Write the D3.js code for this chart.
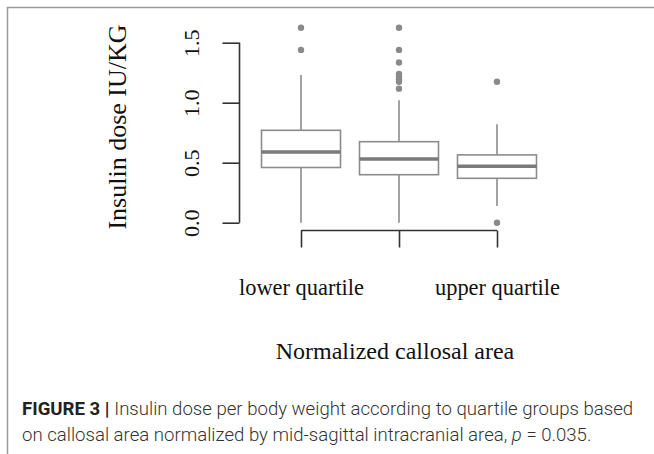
<!DOCTYPE html>
<html lang="en">
<head>
  <meta charset="UTF-8">
  <title>Insulin dose by callosal area quartile</title>
  <script src="https://cdn.jsdelivr.net/npm/d3@7"></script>
  <style>
    body { margin: 0; background: #fff; }
    svg { display: block; }
  </style>
</head>
<body>
  <svg width="654" height="454" id="chart"></svg>
  <script>
    // quartile groups and their labels (the middle one has none)
    const groups = ['q1', 'q2', 'q3'];
    const groupLabels = ['lower quartile', '', 'upper quartile'];

    // box stats
    const lowWhisker = [0.0, 0.0, 0.14];
    const q1 = [0.46, 0.40, 0.37];
    const median = [0.59, 0.53, 0.47];
    const q3 = [0.77, 0.675, 0.565];
    const highWhisker = [1.23, 1.02, 0.82];
    const outliers = [
      [1.625, 1.44],
      [1.625, 1.44, 1.335, 1.24, 1.218, 1.196, 1.175, 1.117],
      [1.175, 0.0]
    ];

    const yTicks = [0, 0.5, 1, 1.5];

    const svg = d3.select('#chart');

    // figure frame (top and left rule)
    svg.append('path')
      .attr('d', 'M7.5 454 L7.5 7.5 L654 7.5')
      .attr('fill', 'none')
      .attr('stroke', '#9a9a9a')
      .attr('stroke-width', 1.5);

    const x = d3.scalePoint().domain(groups).range([301, 497]);
    const y = d3.scaleLinear().domain([0, 1.5]).range([222.7, 42.7]);
    const boxW = 79;
    const boxColor = '#8c8c8c';

    // y axis
    const yAxis = svg.append('g')
      .attr('transform', 'translate(239.5,0)')
      .call(d3.axisLeft(y).tickValues(yTicks).tickSize(17).tickFormat(d3.format('.1f')));
    yAxis.select('.domain').attr('d', `M0,${y(1.5)}V${y(0)}`);
    yAxis.selectAll('line, .domain').attr('stroke', '#333').attr('stroke-width', 1.6);
    yAxis.selectAll('text')
      .attr('x', null).attr('dy', null)
      .attr('transform', 'translate(-41,0) rotate(-90)')
      .attr('text-anchor', 'middle')
      .attr('fill', '#111')
      .attr('font-family', 'Liberation Serif, serif')
      .attr('font-size', 22);

    // x axis as a bracket under the boxes
    const xAxis = svg.append('g')
      .attr('transform', 'translate(0,230.5)')
      .call(d3.axisBottom(x).tickSize(17).tickSizeOuter(0).tickFormat((d, i) => groupLabels[i]));
    xAxis.select('.domain').attr('d', `M${x('q1')},0H${x('q3')}`);
    xAxis.selectAll('line, .domain').attr('stroke', '#333').attr('stroke-width', 1.6);
    xAxis.selectAll('text')
      .attr('y', 64.5).attr('dy', null)
      .attr('fill', '#111')
      .attr('font-family', 'Liberation Serif, serif')
      .attr('font-size', 22.4);

    // boxes
    const boxes = svg.selectAll('.box')
      .data(groups)
      .enter()
      .append('g')
      .attr('class', 'box');

    boxes.append('line')
      .attr('x1', d => x(d)).attr('x2', d => x(d))
      .attr('y1', (d, i) => y(highWhisker[i]))
      .attr('y2', (d, i) => y(q3[i]))
      .attr('stroke', boxColor).attr('stroke-width', 1.6);
    boxes.append('line')
      .attr('x1', d => x(d)).attr('x2', d => x(d))
      .attr('y1', (d, i) => y(q1[i]))
      .attr('y2', (d, i) => y(lowWhisker[i]))
      .attr('stroke', boxColor).attr('stroke-width', 1.6);
    boxes.append('rect')
      .attr('x', d => x(d) - boxW / 2)
      .attr('width', boxW)
      .attr('y', (d, i) => y(q3[i]))
      .attr('height', (d, i) => y(q1[i]) - y(q3[i]))
      .attr('fill', '#fff')
      .attr('stroke', boxColor).attr('stroke-width', 1.6);
    boxes.append('line')
      .attr('x1', d => x(d) - boxW / 2).attr('x2', d => x(d) + boxW / 2)
      .attr('y1', (d, i) => y(median[i]))
      .attr('y2', (d, i) => y(median[i]))
      .attr('stroke', '#7a7a7a').attr('stroke-width', 3.5);

    boxes.selectAll('circle')
      .data((d, i) => outliers[i].map(v => ({ g: d, v: v })))
      .enter()
      .append('circle')
      .attr('cx', d => x(d.g))
      .attr('cy', d => y(d.v))
      .attr('r', 3.2)
      .attr('fill', '#8a8a8a');

    // axis titles
    svg.append('text')
      .attr('transform', 'translate(126,127) rotate(-90)')
      .attr('text-anchor', 'middle')
      .attr('fill', '#111')
      .attr('font-family', 'Liberation Serif, serif')
      .attr('font-size', 26)
      .text('Insulin dose IU/KG');

    svg.append('text')
      .attr('x', 395).attr('y', 359)
      .attr('text-anchor', 'middle')
      .attr('fill', '#111')
      .attr('font-family', 'Liberation Serif, serif')
      .attr('font-size', 24)
      .text('Normalized callosal area');

    // caption
    const cap = svg.append('g')
      .attr('font-family', 'Roboto, sans-serif')
      .attr('font-size', 18.6)
      .attr('fill', '#333');
    const line1 = cap.append('text').attr('x', 22).attr('y', 415);
    line1.append('tspan').attr('font-weight', 700).attr('fill', '#222').text('FIGURE 3 | ');
    line1.append('tspan').attr('font-weight', 300).text('Insulin dose per body weight according to quartile groups based');
    const line2 = cap.append('text').attr('x', 22).attr('y', 441).attr('font-weight', 300);
    line2.append('tspan').text('on callosal area normalized by mid-sagittal intracranial area, ');
    line2.append('tspan').attr('font-style', 'italic').text('p');
    line2.append('tspan').text(' = 0.035.');
  </script>
</body>
</html>
